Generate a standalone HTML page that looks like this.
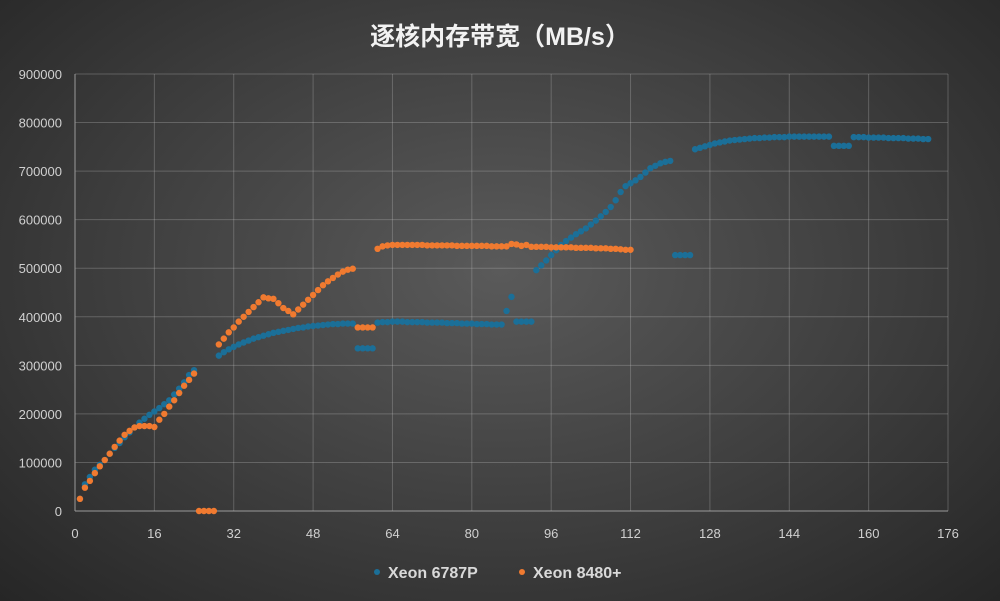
<!DOCTYPE html>
<html><head><meta charset="utf-8">
<style>
html,body{margin:0;padding:0;}
body{width:1000px;height:601px;overflow:hidden;background:radial-gradient(ellipse at 50% 45%,#5a5a5a 0%,#3e3e3e 55%,#262626 100%);font-family:"Liberation Sans","Noto Sans CJK SC",sans-serif;}
svg{position:absolute;left:0;top:0;}
</style></head>
<body>
<svg id="chart" width="1000" height="601">
<text x="500" y="45" text-anchor="middle" fill="#f2f2f2" font-size="25" font-weight="bold" font-family="Liberation Sans, Noto Sans CJK SC, sans-serif">逐核内存带宽（MB/s）</text>
<g id="grid"></g><g id="axes"></g><g id="series"></g>
<g>
<g><circle cx="377" cy="572" r="3" fill="#1b6f98"/><text x="388" y="578" fill="#d9d9d9" font-size="16" font-weight="bold">Xeon 6787P</text></g>
<g><circle cx="522" cy="572" r="3" fill="#f07a30"/><text x="533" y="578" fill="#d9d9d9" font-size="16" font-weight="bold">Xeon 8480+</text></g>
</g>
</svg>
<script>
const xTicks=[0,16,32,48,64,80,96,112,128,144,160,176];
const yTicks=[0,100000,200000,300000,400000,500000,600000,700000,800000,900000];
// Xeon 6787P values for cores 1..172 (null = no point)
const blueSeg1=[25000,55000,70000,85000,95000,105000,118000,130000,140000,152000,162000,172000,182000,190000,198000,205000,212000,220000,228000,240000,252000,265000,280000,290000];
const blueGap=[null,null,null,null];
const blueSeg2=[320000,327000,333000,338000,343000,347000,351000,355000,358000,361000,364000,367000,369000,371000,373000,375000,377000,378000,380000,381000,382000,383000,384000,385000,385000,386000,386000,386000];
const blueSeg3=[335000,335000,335000,335000];
const blueSeg4=[388000,389000,389000,390000,390000,390000,389000,389000,389000,389000,388000,388000,388000,388000,387000,387000,387000,386000,386000,386000,385000,385000,385000,384000,384000,384000,412000,441000,390000,390000,390000,390000];
const blueSeg5=[496000,506000,516000,527000,537000,548000,556000,563000,570000,576000,582000,590000,598000,607000,616000,626000,640000,657000,669000,675000,681000,688000,697000,706000,711000,716000,719000,721000,527000,527000,527000,527000];
const blueSeg6=[745000,748000,751000,754000,757000,759000,761000,763000,764000,765000,766000,767000,768000,768000,769000,769000,770000,770000,770000,771000,771000,771000,771000,771000,771000,771000,771000,771000,752000,752000,752000,752000,770000,770000,770000,769000,769000,769000,769000,768000,768000,768000,768000,767000,767000,767000,766000,766000];
const blueValues=[].concat(blueSeg1,blueGap,blueSeg2,blueSeg3,blueSeg4,blueSeg5,blueSeg6);
// Xeon 8480+ values for cores 1..112
const orangeSeg1=[25000,48000,62000,78000,92000,105000,118000,132000,145000,157000,165000,172000,175000,175000,175000,173000,188000,200000,215000,228000,243000,258000,270000,283000,0,0,0,0];
const orangeSeg2=[343000,355000,368000,378000,390000,400000,410000,420000,430000,440000,438000,437000,428000,418000,412000,405000,415000,425000,435000,445000,455000,465000,473000,480000,487000,493000,497000,499000,378000,378000,378000,378000];
const orangeSeg3=[540000,545000,547000,548000,548000,548000,548000,548000,548000,548000,547000,547000,547000,547000,547000,547000,546000,546000,546000,546000,546000,546000,546000,545000,545000,545000,545000,550000,549000,546000,548000,544000,544000,544000,544000,543000,543000,543000,543000,543000,542000,542000,542000,542000,541000,541000,541000,540000,540000,539000,538000,538000];
const orangeValues=[].concat(orangeSeg1,orangeSeg2,orangeSeg3);

const X0=75,X1=948,Y0=511,Y1=74;
const xs=v=>X0+(v-0)/(176-0)*(X1-X0);
const ys=v=>Y0-(v/900000)*(Y0-Y1);
const NS="http://www.w3.org/2000/svg";
const grid=document.getElementById('grid'),axes=document.getElementById('axes'),ser=document.getElementById('series');
function mk(t,a,p){const e=document.createElementNS(NS,t);for(const k in a)e.setAttribute(k,a[k]);p.appendChild(e);return e;}
yTicks.forEach(v=>{
  const l=mk('line',{x1:X0,x2:X1,y1:ys(v),y2:ys(v),stroke:v===0?'#9a9a9a':'rgba(200,200,200,0.28)','stroke-width':1},grid);
  
  
  const t=mk('text',{x:62,y:ys(v)+5,'text-anchor':'end',fill:'#d0d0d0','font-size':13},axes);t.textContent=v;
  
  
});
xTicks.forEach(v=>{
  const l=mk('line',{x1:xs(v),x2:xs(v),y1:Y1,y2:Y0,stroke:v===0?'#9a9a9a':'rgba(200,200,200,0.28)','stroke-width':1},grid);
  
  
  const t=mk('text',{x:xs(v),y:538,'text-anchor':'middle',fill:'#d0d0d0','font-size':13},axes);t.textContent=v;
  
  
});
function plot(vals,color,name){
  vals.forEach((v,i)=>{
    if(v===null)return;
    const c=mk('circle',{cx:xs(i+1),cy:ys(v),r:3.2,fill:color},ser);
    
    
  });
}
plot(blueValues,'#1b6f98','point-6787p');
plot(orangeValues,'#f07a30','point-8480');
</script>
</body></html>
